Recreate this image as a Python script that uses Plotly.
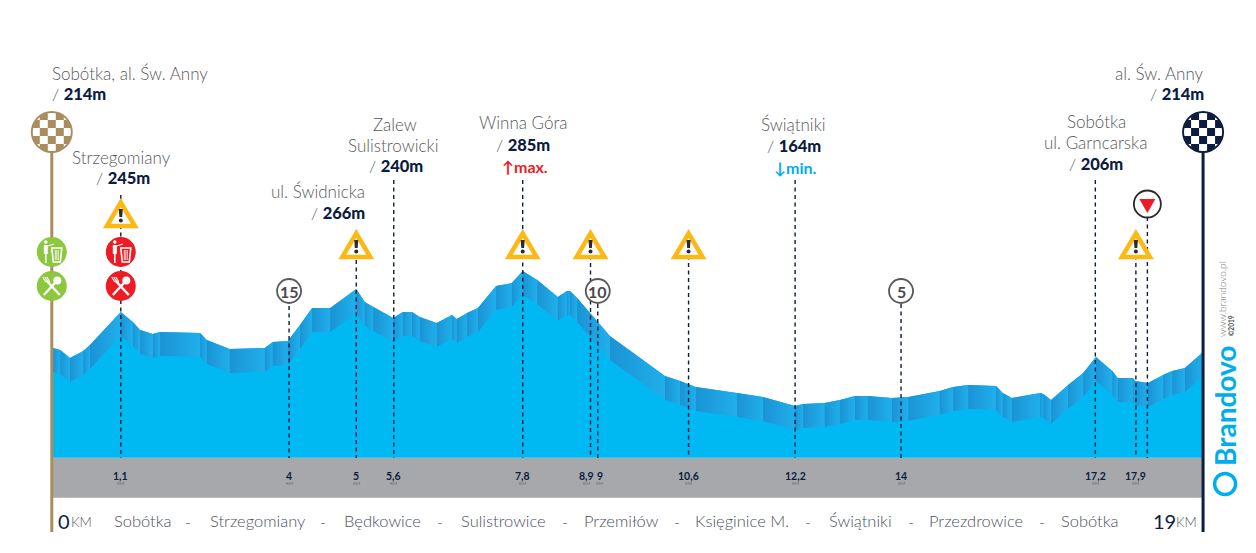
import math
import plotly.graph_objects as go

W, H = 1256, 553
FONT = "Lato"
NAVY = "#0c1d3f"
GREY = "#58595b"
TAN = "#a98d5f"
BLUE = "#00b9f2"
CYAN = "#00aeef"
RED = "#ed1c24"
GREEN = "#8dc63f"
YELLOW = "#fdb913"

# route profile
km = [0, 0.12, 0.28, 0.50, 0.61, 1.12, 1.32, 1.44, 1.65, 1.77, 2.43, 2.54, 2.92, 3.50, 3.63, 3.88,
      4.08, 4.28, 4.58, 5.01, 5.15, 5.29, 5.62, 5.78, 5.93, 6.06, 6.34, 6.59, 6.67, 6.84, 7.02, 7.32,
      7.58, 7.76, 8.00, 8.34, 8.49, 8.54, 8.66, 9.20, 10.11, 10.36, 10.62, 11.30, 11.73, 12.26, 12.39,
      12.75, 13.00, 13.25, 13.46, 13.86, 14.13, 14.65, 14.87, 15.12, 15.58, 15.69, 15.84, 16.31, 16.36,
      16.49, 16.77, 17.02, 17.23, 17.50, 17.59, 17.84, 17.88, 18.09, 18.34, 18.49, 18.70, 19.0]
elevation = [215.6, 213.8, 206.7, 212.9, 218.3, 247.6, 238.7, 231.6, 228.1, 229.8, 229.0, 222.7, 214.7, 215.6, 220.9, 221.8,
             236.1, 251.2, 251.2, 268.1, 256.5, 252.1, 242.3, 247.6, 247.6, 243.2, 237.8, 245.0, 241.4, 246.7, 251.2, 270.8,
             273.4, 284.1, 276.1, 261.0, 266.3, 266.3, 260.1, 226.3, 190.7, 186.2, 181.0, 175.6, 172.0, 164.0, 165.8,
             166.7, 169.3, 172.9, 172.9, 171.1, 172.0, 177.3, 181.0, 182.7, 181.8, 175.6, 171.1, 175.6, 174.7,
             169.3, 182.7, 193.4, 207.6, 195.1, 188.9, 188.9, 186.2, 184.5, 191.6, 195.1, 197.8, 212.0]

# marker lines: position on the drawing, km label, top of the dashed line (px)
marker_km = [1.12, 3.90, 5.01, 5.63, 7.76, 8.88, 9.00, 10.50, 12.26, 14.01, 17.22, 17.89, 18.08]
marker_labels = ["1,1", "4", "5", "5,6", "7,8", "8,9", "9", "10,6", "12,2", "14", "17,2", "17,9", ""]
marker_tops = [195, 306, 230, 180, 180, 233, 304, 233, 180, 304, 180, 233, 217]
label_shift = [0, 0, 0, 0, 0, -4, 2, 0, 0, 0, 0, 0, 0]

warning_km = [1.12, 5.01, 7.76, 8.88, 10.50, 17.89]
warning_y = [214, 245, 245, 245, 245, 245]
badge_km = [3.90, 9.00, 14.01]
badge_labels = ["15", "10", "5"]

towns = ["Sobótka", "Strzegomiany", "Będkowice", "Sulistrowice", "Przemiłów",
         "Księginice M.", "Świątniki", "Przezdrowice", "Sobótka"]
town_x = [143, 257, 382, 503, 621, 742, 860, 976, 1090]
dash_x = [188, 323, 440, 565, 677, 808, 911, 1042]

RIBBON_DEPTH = 21.4
BASE_ELEV = 118.0
BAND_ELEV = 82.4
X_SCALE = 60.53
Y_SCALE = 1.124

fig = go.Figure()

fig.add_trace(go.Scatter(
    x=km + [km[-1], km[0]], y=elevation + [BASE_ELEV, BASE_ELEV],
    mode="lines", line=dict(width=0), fill="toself", fillcolor=BLUE,
    hoverinfo="skip", showlegend=False,
))

# ribbon under the top edge, one gradient quad per stretch
for i in range(len(km) - 1):
    fig.add_trace(go.Scatter(
        x=[km[i], km[i + 1], km[i + 1], km[i], km[i]],
        y=[elevation[i], elevation[i + 1], elevation[i + 1] - RIBBON_DEPTH, elevation[i] - RIBBON_DEPTH, elevation[i]],
        mode="lines", line=dict(width=0), fill="toself",
        fillgradient=dict(type="horizontal", colorscale=[[0, "#1b93d5"], [1, "#20afeb"]]),
        hoverinfo="skip", showlegend=False,
    ))

shapes = []
annotations = []


def yp(y):
    return 1 - y / H


def text(x, y, s, size=17, color=GREY, anchor="center", weight=300, angle=0):
    # annotations keep a little padding, take it back on aligned texts
    nudge = {"left": -2, "right": 3, "center": 0}[anchor]
    annotations.append(dict(
        x=(x + nudge) / W, y=yp(y), xref="paper", yref="paper", text=s, showarrow=False,
        xanchor=anchor, yanchor="middle", textangle=angle,
        font=dict(family=FONT, size=size, color=color, weight=weight),
    ))


def height_text(x, y, value, anchor="center"):
    text(x, y, f'<span style="color:{GREY};font-weight:300">/ </span><span style="font-weight:900">{value}</span>',
         size=16.5, color=NAVY, anchor=anchor)


def circle(pos, y, r, fill, line=None, lw=0):
    shapes.append(dict(
        type="circle", xref="x", yref="paper", xsizemode="pixel", ysizemode="pixel",
        xanchor=pos, yanchor=yp(y), x0=-r, x1=r, y0=-r, y1=r,
        fillcolor=fill, line=dict(color=line or fill, width=lw),
    ))


def icon(pos, y, pts, fill=None, line=None, lw=0, close=True):
    # pts are pixels from the anchor, y running down
    path = "M" + "L".join(f"{a:.2f},{-b:.2f}" for a, b in pts) + ("Z" if close else "")
    shapes.append(dict(
        type="path", xref="x", yref="paper", xsizemode="pixel", ysizemode="pixel",
        xanchor=pos, yanchor=yp(y), path=path,
        fillcolor=fill or "rgba(0,0,0,0)", line=dict(color=line or "rgba(0,0,0,0)", width=lw),
    ))


def checker(pos, y, base):
    circle(pos, y, 21, base)
    size, r = 8, 19
    for i in range(-3, 4):
        for j in range(-3, 4):
            if (i + j) % 2:
                continue
            x0, y0 = i * size - size / 2, j * size - size / 2
            steps = [k / 6 * size for k in range(7)]
            edge = [(x0 + s, y0) for s in steps] + [(x0 + size, y0 + s) for s in steps] \
                + [(x0 + size - s, y0 + size) for s in steps] + [(x0, y0 + size - s) for s in steps]
            if min(math.hypot(a, b) for a, b in edge) >= r:
                continue
            clipped = []
            for a, b in edge:
                d = math.hypot(a, b)
                clipped.append((a * r / d, b * r / d) if d > r else (a, b))
            icon(pos, y, clipped, fill="white")


def warning(pos, y):
    icon(pos, y, [(0, -11.5), (14, 12), (-14, 12)], fill="white", line=YELLOW, lw=4.5)
    icon(pos, y, [(-2, -5), (2, -5), (1.4, 3), (-1.4, 3)], fill="#2b2b2b")
    circle(pos, y + 6.5, 2, "#2b2b2b")


def cutlery_icon(pos, y, color):
    circle(pos, y, 15, color)
    icon(pos, y, [(-8, 9), (5, -5)], line="white", lw=2.4, close=False)
    icon(pos, y, [(8, 9), (-5, -5)], line="white", lw=2.4, close=False)
    circle(pos + 5.5 / X_SCALE, y - 5.5, 4, "white")
    for t in (-9, -7, -5):
        icon(pos, y, [(t, -9), (t + 3, -4)], line="white", lw=1.1, close=False)


def bin_icon(pos, y, color):
    circle(pos, y, 15, color)
    icon(pos, y, [(0, -4), (10, -4), (8.5, 10), (1.5, 10)], line="white", lw=1.6, fill=color)
    for t in (3.5, 5, 6.5):
        icon(pos, y, [(t, -2), (t, 8)], line="white", lw=0.8, close=False)
    circle(pos - 6 / X_SCALE, y - 10, 1.8, "white")
    icon(pos, y, [(-8, -7), (-4, -7), (-4, 2), (-8, 2)], fill="white")
    icon(pos, y, [(-4, -6), (2, -8)], line="white", lw=1.2, close=False)
    icon(pos, y, [(-6, 2), (-6, 11)], line="white", lw=1.6, close=False)


# grey distance band and the two poles
shapes.append(dict(type="rect", xref="x", yref="y", x0=0, x1=19, y0=BAND_ELEV, y1=BASE_ELEV,
                   fillcolor="#a7a8ab", line=dict(width=0), layer="below"))
shapes.append(dict(type="line", xref="x", yref="paper", x0=-0.02, x1=-0.02, y0=yp(132), y1=yp(532),
                   line=dict(color=TAN, width=3)))
shapes.append(dict(type="line", xref="x", yref="paper", x0=19.0, x1=19.0, y0=yp(132), y1=yp(532),
                   line=dict(color=NAVY, width=3)))

for pos, top in zip(marker_km, marker_tops):
    shapes.append(dict(type="line", xref="x", yref="paper", x0=pos, x1=pos, y0=yp(top), y1=yp(458),
                       line=dict(color=NAVY, width=1.4, dash="4px,3.5px")))

for pos, lab, shift in zip(marker_km, marker_labels, label_shift):
    if lab:
        annotations.append(dict(x=pos, y=yp(476), xref="x", yref="paper", text=f"<b>{lab}</b>", showarrow=False,
                                xshift=shift, yanchor="middle", font=dict(family=FONT, size=10.5, color=NAVY)))
        annotations.append(dict(x=pos, y=yp(483.5), xref="x", yref="paper", text="KM", showarrow=False,
                                xshift=shift, yanchor="middle", font=dict(family=FONT, size=4.5, color="#6d6e71")))

checker(-0.02, 132, TAN)
checker(19.0, 132, NAVY)

for pos, col in ((-0.02, GREEN), (1.12, RED)):
    bin_icon(pos, 252, col)
    cutlery_icon(pos, 286, col)

for pos, y in zip(warning_km, warning_y):
    warning(pos, y)

for pos, lab in zip(badge_km, badge_labels):
    circle(pos, 291, 12, "white", "#58595b", 1.8)
    annotations.append(dict(x=pos, y=yp(291), xref="x", yref="paper", text=f"<b>{lab}</b>", showarrow=False,
                            yanchor="middle", font=dict(family=FONT, size=16, color="#4a4a4c")))

circle(18.08, 204, 13.5, "white", "#2b2b2b", 1.8)
icon(18.08, 204, [(-8, -5), (8, -5), (0, 9)], fill=RED)

# place names and heights
text(52, 73, "Sobótka, al. Św. Anny", anchor="left")
height_text(52, 94, "214m", anchor="left")
text(121, 157, "Strzegomiany")
height_text(123, 178, "245m")
text(364, 191, "ul. Świdnicka", anchor="right")
height_text(364, 213, "266m", anchor="right")
text(395, 124, "Zalew")
text(393, 145, "Sulistrowicki")
height_text(396, 166, "240m")
text(523, 123, "Winna Góra")
height_text(523, 145, "285m")
text(525, 166, '<b>↑max.</b>', size=16, color=RED)
text(793, 124, "Świątniki")
height_text(794, 146, "164m")
text(795, 167, '<b>↓min.</b>', size=16, color=CYAN)
text(1096, 121, "Sobótka")
text(1095, 143, "ul. Garncarska")
height_text(1096, 164, "206m")
text(1203, 73, "al. Św. Anny", anchor="right")
height_text(1203, 94, "214m", anchor="right")

# route line along the bottom
text(58, 521, "0", size=20, color=NAVY, anchor="left", weight=400)
text(71, 522, "KM", size=13.5, anchor="left")
for x, name in zip(town_x, towns):
    text(x, 521, name, size=16.5, color="#4d5160")
for x in dash_x:
    text(x, 521, "-", size=16, color="#4d5160")
text(1153, 521, "19", size=20, color=NAVY, anchor="left", weight=400)
text(1176, 522, "KM", size=13.5, anchor="left")

# brand block
text(1225, 406, "<b>Brandovo</b>", size=28, color=CYAN, angle=-90)
circle(19.0 + 22 / X_SCALE, 484, 10.5, "white", CYAN, 3.5)
text(1222, 299, "www.brandovo.pl", size=10, color="#808285", angle=-90)
text(1231, 326, "<b>©2019</b>", size=6.5, color="#4a4a4c", angle=-90)

fig.update_layout(
    width=W, height=H,
    margin=dict(l=0, r=0, t=0, b=0),
    paper_bgcolor="white", plot_bgcolor="white",
    showlegend=False,
    shapes=shapes, annotations=annotations,
    xaxis=dict(visible=False, range=[-53 / X_SCALE, (W - 53) / X_SCALE], fixedrange=True),
    yaxis=dict(visible=False, range=[285 - (H - 270) / Y_SCALE, 285 + 270 / Y_SCALE], fixedrange=True),
)

# the page's default body margin would push the drawing 8px off
fig.write_html("out.html", config={"displayModeBar": False},
               post_script="document.body.style.margin='0';document.documentElement.style.overflow='hidden';")
